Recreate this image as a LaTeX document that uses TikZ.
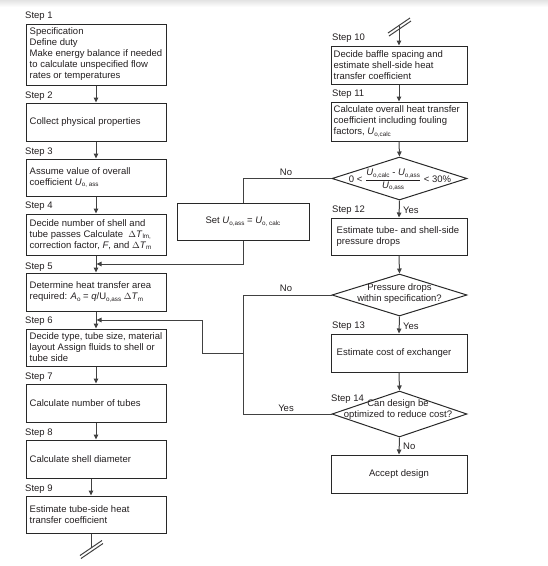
\documentclass[tikz,border=0pt]{standalone}
\usepackage{fontspec}
\setmainfont{Liberation Sans}
\usetikzlibrary{arrows.meta,shapes.geometric}
\definecolor{ln}{RGB}{65,65,65}
\definecolor{bx}{RGB}{40,40,40}
\definecolor{tx}{RGB}{35,31,32}
\newcommand\sbs[1]{\raisebox{-1.8pt}{\fontsize{6.3}{7}\selectfont #1}}
\newcommand\Uo[1]{\textit{U}\sbs{#1}}
\begin{document}
\begin{tikzpicture}[x=1pt,y=-1pt,
  box/.style={draw=bx,line width=1pt,rectangle,inner sep=0pt},
  lbox/.style={box,minimum width=140pt},
  rbox/.style={box,minimum width=136pt},
  txt/.style={text=tx,font=\fontsize{9.5}{11}\selectfont,align=left,inner sep=0pt},
  ctxt/.style={txt,align=center},
  lab/.style={txt,anchor=west},
  dia/.style={draw=bx,line width=1pt,diamond,inner sep=0pt,minimum width=135pt},
  con/.style={draw=ln,line width=1pt},
  arr/.style={con,-{Triangle[length=5pt,width=4.5pt]}},
]
\useasboundingbox (0,0) rectangle (548,566);
\shade[top color=gray!22,bottom color=white] (0,0) rectangle (548,7);

% ---- left column boxes
\node[lbox,minimum height=61pt] (b1) at (96,54.5) {};
\node[lbox,minimum height=38pt] (b2) at (96,122) {};
\node[lbox,minimum height=37pt] (b3) at (96,177.5) {};
\node[lbox,minimum height=41pt] (b4) at (96,234.5) {};
\node[lbox,minimum height=38pt] (b5) at (96,292) {};
\node[lbox,minimum height=37pt] (b6) at (96,347.5) {};
\node[lbox,minimum height=38pt] (b7) at (96,403) {};
\node[lbox,minimum height=38pt] (b8) at (96,459) {};
\node[lbox,minimum height=37pt] (b9) at (96,514.5) {};

\node[txt,anchor=west] (t1) at ([xshift=4pt]b1.west) {Specification\\Define duty\\Make energy balance if needed\\to calculate unspecified flow\\rates or temperatures};
\node[txt,anchor=west] (t2) at ([xshift=4pt]b2.west) {Collect physical properties};
\node[txt,anchor=west] (t3) at ([xshift=4pt]b3.west) {Assume value of overall\\coefficient \Uo{o, ass}};
\node[txt,anchor=west] (t4) at ([xshift=4pt]b4.west) {Decide number of shell and\\tube passes Calculate \ $\Delta$\textit{T}\sbs{lm,}\\correction factor, \textit{F}, and $\Delta$\textit{T}\sbs{m}};
\node[txt,anchor=west] (t5) at ([xshift=4pt]b5.west) {Determine heat transfer area\\required: \textit{A}\sbs{o} = \textit{q}/U\sbs{o,ass} $\Delta$\textit{T}\sbs{m}};
\node[txt,anchor=west] (t6) at ([xshift=4pt]b6.west) {Decide type, tube size, material\\layout Assign fluids to shell or\\tube side};
\node[txt,anchor=west] (t7) at ([xshift=4pt]b7.west) {Calculate number of tubes};
\node[txt,anchor=west] (t8) at ([xshift=4pt]b8.west) {Calculate shell diameter};
\node[txt,anchor=west] (t9) at ([xshift=4pt]b9.west) {Estimate tube-side heat\\transfer coefficient};

% ---- step labels left
\node[lab] (s1) at (25,16) {Step 1};
\node[lab] (s2) at (25,96) {Step 2};
\node[lab] (s3) at (25,152) {Step 3};
\node[lab] (s4) at (25,206) {Step 4};
\node[lab] (s5) at (25,267) {Step 5};
\node[lab] (s6) at (25,321) {Step 6};
\node[lab] (s7) at (25,377) {Step 7};
\node[lab] (s8) at (25,433) {Step 8};
\node[lab] (s9) at (25,489) {Step 9};

% ---- right column
\node[rbox,minimum height=38pt] (b10) at (399,65) {};
\node[rbox,minimum height=39pt] (b11) at (399,121.5) {};
\node[dia,minimum height=43pt] (d1) at (399.5,178.5) {};
\node[rbox,minimum height=37pt] (b12) at (399,236.5) {};
\node[dia,minimum height=42pt] (d2) at (399.5,295) {};
\node[rbox,minimum height=38pt] (b13) at (399,353) {};
\node[dia,minimum height=46pt] (d3) at (399.5,414) {};
\node[rbox,minimum height=38pt] (acc) at (399,474) {};
\node[box,minimum width=132pt,minimum height=37pt] (set) at (243,221.5) {};

\node[txt,anchor=west] (t10) at ([xshift=3pt]b10.west) {Decide baffle spacing and\\estimate shell-side heat\\transfer coefficient};
\node[txt,anchor=west] (t11) at ([xshift=3pt]b11.west) {Calculate overall heat transfer\\coefficient including fouling\\factors, \Uo{o,calc}};
\node[txt] (td1) at (400,180) {0 < $\displaystyle\frac{\mbox{\Uo{o,calc} - \Uo{o,ass}}}{\mbox{\Uo{o,ass}}}$ < 30\%};
\node[txt,anchor=west] (t12) at ([xshift=6pt]b12.west) {Estimate tube- and shell-side\\pressure drops};
\node[ctxt] (td2) at (399.5,293.5) {Pressure drops\\within specification?};
\node[txt,anchor=west] (t13) at ([xshift=6pt]b13.west) {Estimate cost of exchanger};
\node[ctxt] (td3) at (398,410) {Can design be\\optimized to reduce cost?};
\node[ctxt] (tacc) at (acc.center) {Accept design};
\node[ctxt] (tset) at (set.center) {Set \Uo{o,ass} = \Uo{o, calc}};

\node[lab] (s10) at (332,38) {Step 10};
\node[lab] (s11) at (332,94) {Step 11};
\node[lab] (s12) at (332,210) {Step 12};
\node[lab] (s13) at (332,326) {Step 13};
\node[lab] (s14) at (331,399) {Step 14};

\node[lab] (y1) at (403,210) {Yes};
\node[lab] (y2) at (403,326) {Yes};
\node[lab] (n3) at (403,446) {No};
\node[txt] (n1) at (286,172) {No};
\node[txt] (n2) at (286,288) {No};
\node[txt] (y3) at (286,408) {Yes};

% ---- left connectors
\draw[arr] (b1.south) -- (b2.north);
\draw[arr] (b2.south) -- (b3.north);
\draw[arr] (b3.south) -- (b4.north);
\draw[arr] (b4.south) -- (b5.north);
\draw[arr] (b5.south) -- (b6.north);
\draw[arr] (b6.south) -- (b7.north);
\draw[arr] (b7.south) -- (b8.north);
\draw[arr] ([xshift=-5pt]b8.south) -- ([xshift=-5pt]b9.north);
\coordinate (brk1) at (91,548);
\draw[con] ([xshift=-5pt]b9.south) -- (brk1);
\draw[con] (80,555.5) -- (102,540.5);
\draw[con] (81,558.5) -- (103,543.5);

% ---- right connectors
\coordinate (brk2) at (399,26);
\draw[con] (388,33) -- (410,18);
\draw[con] (389,36) -- (411,21);
\draw[arr] (brk2) -- (b10.north);
\draw[arr] (b10.south) -- (b11.north);
\draw[arr] (b11.south) -- (d1.north);
\draw[arr] (d1.south) -- (b12.north);
\draw[arr] (b12.south) -- (d2.north);
\draw[arr] (d2.south) -- (b13.north);
\draw[arr] (b13.south) -- (d3.north);
\draw[arr] (d3.south) -- (acc.north);

% ---- loop 1
\coordinate (c1) at (d1.west -| set.north);
\coordinate (c5) at (243,264);
\coordinate (j5) at (96.5,264);
\draw[con] (d1.west) -- (c1) -- (set.north);
\draw[arr] (set.south) -- (c5) -- (j5);

% ---- loop 2
\coordinate (c2) at (243,295);
\coordinate (c3) at (243,414);
\coordinate (c4) at (243,353);
\coordinate (c6) at (202,353);
\coordinate (c7) at (202,320);
\coordinate (j6) at (96.5,320);
\draw[con] (d2.west) -- (c2) -- (c3) -- (d3.west);
\draw[arr] (c4) -- (c6) -- (c7) -- (j6);
\end{tikzpicture}
\end{document}
